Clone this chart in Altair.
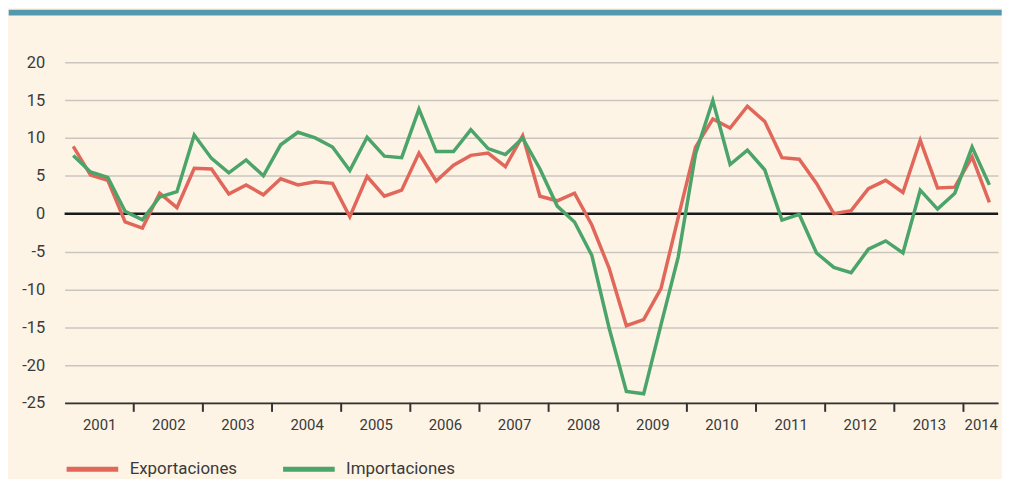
import altair as alt
import pandas as pd

# ---- data ----
years = list(range(2001, 2015))
quarters = [f"{y}T{q}" for y in years for q in range(1, 5)][:54]

exportaciones = [
    8.9, 5.1, 4.4, -1.1, -1.9, 2.7, 0.8, 6.0, 5.9, 2.6, 3.8, 2.5, 4.6, 3.8, 4.2, 4.0,
    -0.4, 4.9, 2.3, 3.1, 8.0, 4.3, 6.4, 7.7, 8.0, 6.2, 10.3, 2.3, 1.7, 2.7,
    -1.5, -7.2, -14.8, -14.0, -9.9, -0.5,
    8.8, 12.5, 11.3, 14.2, 12.2, 7.4, 7.2, 4.0, 0.0, 0.4,
    3.3, 4.4, 2.8, 9.7, 3.4, 3.5, 7.5, 1.5,
]
importaciones = [
    7.7, 5.5, 4.8, 0.3, -0.8, 2.2, 2.9, 10.4, 7.3, 5.4, 7.1, 5.0, 9.1, 10.75, 10.0, 8.8,
    5.7, 10.1, 7.6, 7.4, 13.8, 8.2, 8.2, 11.1, 8.6, 7.8, 10.0, 5.9, 1.0, -1.1,
    -5.5, -15.1, -23.5, -23.8, -14.7, -5.7,
    7.9, 14.95, 6.5, 8.4, 5.8, -0.85, -0.1, -5.2, -7.1, -7.8,
    -4.7, -3.6, -5.2, 3.1, 0.6, 2.7, 8.8, 3.8,
]
series_names = ["Exportaciones", "Importaciones"]
y_ticks = [-25, -20, -15, -10, -5, 0, 5, 10, 15, 20]
year_starts = [4 * k for k in range(1, 14)]          # quarter index where each year 2002..2014 begins
year_label_pos = [4 * k + 2 for k in range(13)] + [53]  # middle of each year (2014 is half a year)

# ---- styling ----
BG = "#FDF4E6"
TEAL = "#5299B0"
RED = "#E0675A"
GREEN = "#4BA469"
GRID = "#CAC6BF"
TEXT = "#3A3A3A"
FONT = "Roboto"

W, H = 940, 343

rows = []
for i, (q, e, m) in enumerate(zip(quarters, exportaciones, importaciones)):
    rows.append({"t": i + 0.5, "periodo": q, "serie": series_names[0], "valor": e})
    rows.append({"t": i + 0.5, "periodo": q, "serie": series_names[1], "valor": m})
df = pd.DataFrame(rows)

x_scale = alt.Scale(domain=[0, 54], nice=False, zero=False)
y_scale = alt.Scale(domain=[-25, 20], nice=False)

x_axis = alt.Axis(
    values=year_label_pos,
    labelExpr="'' + (2001 + floor(datum.value / 4))",
    tickSize=0,
    ticks=False,
    labelPadding=15,
    labelFontSize=15,
    labelColor=TEXT,
    labelFont=FONT,
    domainColor="#333333",
    domainWidth=2,
    grid=False,
    title=None,
)
y_axis = alt.Axis(
    values=y_ticks,
    labelExpr="'' + datum.value",
    ticks=False,
    domain=False,
    grid=True,
    gridColor=GRID,
    gridWidth=1.5,
    labelPadding=20,
    labelFontSize=16.5,
    labelColor=TEXT,
    labelFont=FONT,
    title=None,
)

band = alt.Chart(pd.DataFrame({"a": [0]})).mark_rect(color=TEAL).encode(
    x=alt.value(-56.3), x2=alt.value(W + 3.7), y=alt.value(-53), y2=alt.value(-47)
)

zero = alt.Chart(pd.DataFrame({"valor": [0]})).mark_rule(color="#1A1A1A", strokeWidth=2.5).encode(
    y=alt.Y("valor:Q", scale=y_scale, axis=y_axis)
)

ticks = alt.Chart(pd.DataFrame({"t": year_starts})).mark_rule(color="#333333", strokeWidth=2).encode(
    x=alt.X("t:Q", scale=x_scale, axis=x_axis), y=alt.value(H), y2=alt.value(H + 9)
)

lines = alt.Chart(df).mark_line(strokeWidth=3.5, strokeJoin="miter").encode(
    x=alt.X("t:Q", scale=x_scale, axis=x_axis),
    y=alt.Y("valor:Q", scale=y_scale, axis=y_axis),
    color=alt.Color(
        "serie:N",
        scale=alt.Scale(domain=series_names, range=[RED, GREEN]),
        legend=alt.Legend(
            title=None,
            orient="none",
            legendX=-0.5,
            legendY=H + 38,
            direction="horizontal",
            symbolType="stroke",
            symbolSize=2704,
            symbolStrokeWidth=5,
            labelFont=FONT,
            labelFontSize=17,
            labelColor=TEXT,
            labelOffset=9,
            columnPadding=35,
            padding=0,
        ),
    ),
    order="t:Q",
)

chart = (
    alt.layer(band, zero, ticks, lines)
    .properties(width=W, height=H, padding=0, background=BG)
    .configure_view(stroke=None)
)

chart.save("out.html", embed_options={"renderer": "svg", "actions": False})
